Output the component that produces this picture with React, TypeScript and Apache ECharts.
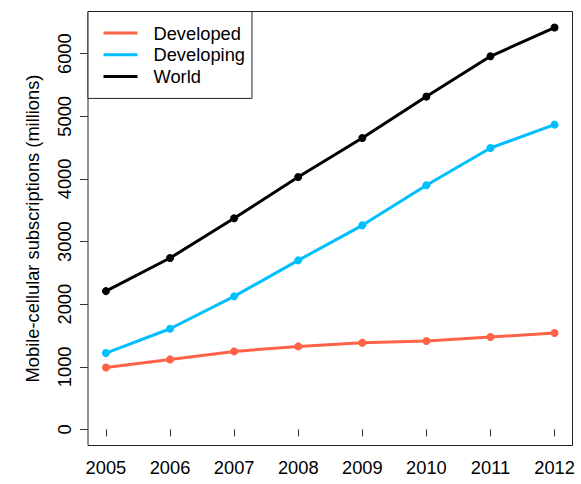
import React, { useEffect, useRef } from "react";
import * as echarts from "echarts";

// Mobile-cellular subscriptions (millions), 2005-2012
const years = [2005, 2006, 2007, 2008, 2009, 2010, 2011, 2012];
const developed = [990, 1118, 1246, 1326, 1385, 1411, 1475, 1539];
const developing = [1219, 1608, 2125, 2700, 3259, 3898, 4494, 4867];
const world = [2209, 2737, 3371, 4030, 4653, 5315, 5958, 6417];
const yTicks = [0, 1000, 2000, 3000, 4000, 5000, 6000];

const seriesDefs = [
  { name: "Developed", values: developed, color: "#FF6347" },
  { name: "Developing", values: developing, color: "#00BFFF" },
  { name: "World", values: world, color: "#000000" },
];

const FONT = "'Liberation Sans', Arial, sans-serif";

export default function App() {
  const ref = useRef<HTMLDivElement>(null);

  useEffect(() => {
    if (!ref.current) return;
    const chart = echarts.init(ref.current, null, { renderer: "svg" });

    // R-style 4% padding around the data range
    const xPad = (years[years.length - 1] - years[0]) * 0.04;
    const yMax = Math.max(...world);
    const yPad = yMax * 0.04;

    chart.setOption({
      animation: false,
      backgroundColor: "#ffffff",
      textStyle: { fontFamily: FONT, color: "#000" },
      grid: {
        left: 88,
        right: 8.5,
        top: 11.5,
        bottom: 38.5,
        show: true,
        borderColor: "#222",
        borderWidth: 1,
        backgroundColor: "transparent",
      },
      legend: {
        orient: "vertical",
        left: 88,
        top: 11.5,
        padding: [11.5, 7, 12, 15.5],
        itemGap: 1.7,
        itemWidth: 34,
        itemHeight: 3,
        icon: "rect",
        backgroundColor: "#ffffff",
        borderColor: "#222",
        borderWidth: 1,
        borderRadius: 0,
        textStyle: {
          fontFamily: FONT,
          fontSize: 18.3,
          color: "#000",
          lineHeight: 20,
          padding: [0, 0, 0, 11],
        },
        data: seriesDefs.map((s) => s.name),
      },
      xAxis: {
        type: "value",
        min: years[0] - xPad,
        max: years[years.length - 1] + xPad,
        axisLine: { show: false },
        splitLine: { show: false },
        axisTick: {
          show: true,
          length: 7,
          customValues: years,
          lineStyle: { color: "#333", width: 1 },
        },
        axisLabel: {
          customValues: years,
          margin: 12.5,
          fontSize: 18.3,
          fontFamily: FONT,
          color: "#000",
          formatter: (v: number) => String(v),
        },
      },
      yAxis: {
        type: "value",
        min: -yPad,
        max: yMax + yPad,
        name: "Mobile-cellular subscriptions (millions)",
        nameLocation: "middle",
        nameGap: 47,
        nameTextStyle: { fontFamily: FONT, fontSize: 18.3, color: "#000" },
        axisLine: { show: false },
        splitLine: { show: false },
        axisTick: {
          show: true,
          length: 8,
          customValues: yTicks,
          lineStyle: { color: "#333", width: 1 },
        },
        axisLabel: {
          customValues: yTicks,
          rotate: 90,
          margin: 14.5,
          fontSize: 18.3,
          fontFamily: FONT,
          color: "#000",
          formatter: (v: number) => String(v),
        },
      },
      series: seriesDefs.map((s) => ({
        name: s.name,
        type: "line",
        data: years.map((y, i) => [y, s.values[i]]),
        color: s.color,
        lineStyle: { color: s.color, width: 3 },
        itemStyle: { color: s.color },
        symbol: "circle",
        symbolSize: 8,
        showSymbol: true,
        clip: false,
        z: 2,
      })),
    });

    return () => chart.dispose();
  }, []);

  return (
    <div
      ref={ref}
      style={{ position: "absolute", left: 0, top: 0, width: 581, height: 484 }}
    />
  );
}
